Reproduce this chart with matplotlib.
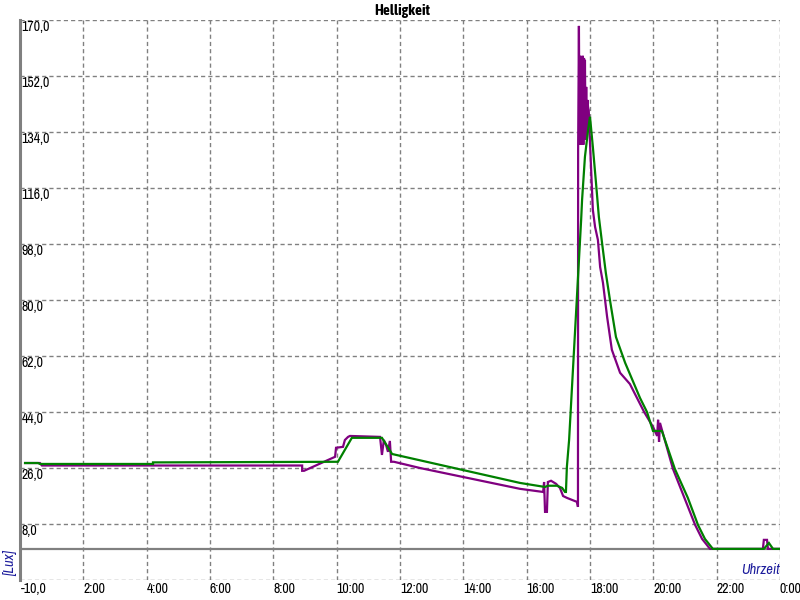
import matplotlib
matplotlib.use("Agg")
import os
import matplotlib.pyplot as plt
from matplotlib import font_manager
from matplotlib.font_manager import FontProperties
import matplotlib.transforms as mtransforms

# ---------------- data ----------------
title = "Helligkeit"
y_label = "[Lux]"
x_label = "Uhrzeit"

x_ticks = [0, 2, 4, 6, 8, 10, 12, 14, 16, 18, 20, 22, 24]
x_tick_labels = ["", "2:00", "4:00", "6:00", "8:00", "10:00", "12:00", "14:00",
                 "16:00", "18:00", "20:00", "22:00", "0:00"]
y_ticks = [-10, 8, 26, 44, 62, 80, 98, 116, 134, 152, 170]
y_tick_labels = ["", "8,0", "26,0", "44,0", "62,0", "80,0", "98,0", "116,0",
                 "134,0", "152,0", "170,0"]
y_min_label = "-10,0"

# purple series (time in hours, value in lux)
purple_t = [0.16, 0.63, 0.69, 1.20, 8.91, 8.91, 8.97, 9.95, 9.98, 10.20, 10.26,
            10.36, 10.42, 11.37, 11.43, 11.49, 11.56, 11.62, 11.68, 11.72, 11.81,
            12.63, 15.79, 16.52, 16.55, 16.58, 16.61, 16.64, 16.67, 16.77, 16.93,
            17.05, 17.15, 17.27, 17.59, 17.62, 17.625, 17.65, 17.67, 17.69, 17.71,
            17.73, 17.75, 17.77, 17.79, 17.81, 17.83, 17.84, 17.86, 17.88, 17.90,
            17.92, 17.94, 17.96, 18.00, 18.09, 18.16, 18.25, 18.32, 18.41, 18.54,
            18.69, 18.95, 19.26, 19.71, 19.99, 20.12, 20.15, 20.18, 20.21, 20.27,
            20.62, 20.97, 21.32, 21.54, 21.79, 23.46, 23.49, 23.59, 23.62, 23.97]
purple_v = [27.6, 27.6, 26.8, 26.8, 26.8, 25.1, 25.1, 29.6, 32.5, 32.8, 35.0,
            36.0, 36.3, 36.0, 30.2, 35.0, 33.4, 31.2, 34.7, 28.0, 28.0,
            26.0, 19.3, 18.3, 21.5, 11.9, 11.9, 11.9, 21.5, 21.9, 20.9,
            19.6, 17.0, 16.4, 15.1, 13.5, 128.3, 168.1, 129.9, 158.5, 129.9,
            157.8, 129.9, 158.5, 129.9, 157.8, 131.5, 157.2, 131.5, 148.5, 133.0,
            144.3, 141.8, 141.0, 130.5, 109.0, 103.5, 99.3, 90.6, 85.5, 74.6,
            64.0, 56.6, 53.0, 44.0, 39.2, 36.3, 41.5, 34.4, 40.5, 38.3,
            25.7, 16.7, 7.7, 3.2, 0.0, 0.0, 2.9, 2.9, 0.0, 0.0]

# green series
green_t = [0.16, 0.57, 0.63, 4.20, 4.20, 10.04, 10.48, 11.43, 11.75, 15.79,
           16.58, 16.67, 16.96, 17.12, 17.21, 17.24, 17.27, 17.34, 17.72, 17.75,
           17.84, 17.94, 18.00, 18.09, 18.19, 18.28, 18.38, 18.50, 18.63, 18.82,
           19.11, 19.58, 19.80, 19.99, 20.27, 20.68, 21.09, 21.41, 21.63, 21.88,
           23.49, 23.65, 23.78, 23.97]
green_v = [27.6, 27.6, 27.3, 27.3, 27.8, 28.0, 35.7, 35.7, 30.5, 21.2,
           19.9, 20.3, 20.3, 19.6, 18.3, 18.3, 26.4, 35.0, 105.7, 112.2,
           126.0, 134.7, 138.9, 129.2, 117.6, 106.7, 98.4, 88.7, 80.0, 68.1,
           59.8, 48.5, 44.0, 37.9, 37.9, 25.7, 16.4, 7.7, 3.2, 0.0,
           0.0, 1.9, 0.0, 0.0]


# ---------------- fonts ----------------
BAD = ("Light", "Thin", "Extra", "Ultra", "Black", "Medium", "Semi", "Demi", "Heavy")


def pick_font(bold=False, italic=False):
    """Prefer a regular-weight condensed sans face, otherwise Liberation Sans."""
    cands = []
    for f in font_manager.fontManager.ttflist:
        base = os.path.basename(f.fname)
        if "Condensed" not in base and "Narrow" not in base:
            continue
        stem = base.replace("Condensed", "").replace("Narrow", "")
        if any(b in stem for b in BAD):
            continue
        is_bold = "Bold" in stem
        is_it = "Italic" in stem or "Oblique" in stem
        if is_bold != bold or is_it != italic:
            continue
        if "Mono" in base or "Serif" in base:
            continue
        rank = 0 if "Liberation" in base else (1 if "Noto" in base else 2)
        cands.append((rank, base, f.fname))
    if cands:
        cands.sort()
        return FontProperties(fname=cands[0][2])
    return FontProperties(family="Liberation Sans",
                          weight="bold" if bold else "normal",
                          style="italic" if italic else "normal")


fp_reg = pick_font()
fp_bold = pick_font(bold=True)
fp_it = pick_font(italic=True)

W, H = 800, 600
fig = plt.figure(figsize=(8, 6), dpi=100)
ax = fig.add_axes([20 / W, 20 / H, 760 / W, 560 / H])

ax.plot(purple_t, purple_v, color="#800080", lw=1.6, solid_joinstyle="miter", zorder=3)
ax.plot(green_t, green_v, color="#008000", lw=1.6, solid_joinstyle="miter", zorder=4)

ax.axhline(0, color="#808080", lw=1.6, zorder=2)

ax.set_xlim(0, 24)
ax.set_ylim(-10, 170)

tick_size = 10
ax.set_xticks(x_ticks)
ax.set_xticklabels(x_tick_labels)
for lbl in ax.get_xticklabels():
    lbl.set_fontproperties(fp_reg)
    lbl.set_fontsize(tick_size)
    lbl.set_horizontalalignment("left")
ax.tick_params(axis="x", length=0, pad=1.5)

ax.set_yticks(y_ticks)
ax.set_yticklabels(y_tick_labels)
down = mtransforms.ScaledTranslation(0, -3.5 / 100, fig.dpi_scale_trans)
for lbl in ax.get_yticklabels():
    lbl.set_fontproperties(fp_reg)
    lbl.set_fontsize(tick_size)
    lbl.set_horizontalalignment("left")
    lbl.set_verticalalignment("top")
    lbl.set_transform(lbl.get_transform() + down)
ax.tick_params(axis="y", length=0, pad=-1)

ax.grid(True, color="#808080", lw=1.0, linestyle=(0, (3.0, 2.2)), zorder=1)
ax.set_axisbelow(True)

for side in ("top", "right", "bottom"):
    ax.spines[side].set_visible(False)
ax.spines["left"].set_color("#808080")
ax.spines["left"].set_linewidth(2.2)

ax.annotate(y_min_label, xy=(0, -10), xycoords="data", xytext=(0.5, -1.2),
            textcoords="offset points", ha="left", va="top",
            fontproperties=fp_reg, fontsize=tick_size, annotation_clip=False)

fig.text(402 / W, 1 - 11 / H, title, ha="center", va="center",
         fontproperties=fp_bold, fontsize=11)
fig.text(10 / W, 1 - 563 / H, y_label, ha="center", va="center", rotation=90,
         fontproperties=fp_it, fontsize=10.5, color="#1c1c9c")
fig.text(780 / W, 1 - 570 / H, x_label, ha="right", va="center",
         fontproperties=fp_it, fontsize=10.5, color="#1c1c9c")

fig.savefig("out.png", dpi=100)
